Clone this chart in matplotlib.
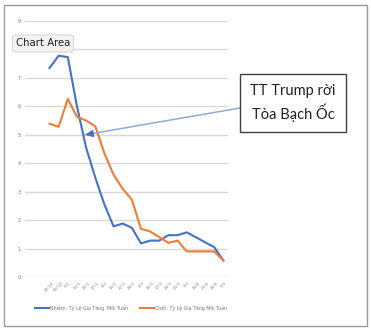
import matplotlib
matplotlib.use("Agg")
from matplotlib import pyplot as plt
from matplotlib.patches import Rectangle
import numpy as np

# tuần (ngày/tháng)
weeks = ["23/12", "30/12", "6/1", "13/1", "20/1", "27/1", "3/2", "10/2", "17/2", "24/2",
         "3/3", "10/3", "17/3", "24/3", "31/3", "7/4", "14/4", "21/4", "28/4", "5/5"]
nhiem = [7.35, 7.78, 7.73, 6.0, 4.55, 3.5, 2.55, 1.78, 1.88, 1.73,
         1.18, 1.28, 1.28, 1.47, 1.47, 1.57, 1.4, 1.22, 1.05, 0.58]
chet = [5.39, 5.28, 6.26, 5.63, 5.5, 5.3, 4.35, 3.6, 3.1, 2.72,
        1.69, 1.6, 1.4, 1.2, 1.28, 0.9, 0.9, 0.9, 0.9, 0.58]
label_nhiem = "Nhiễm: Tỷ Lệ Gia Tăng  Mỗi Tuần"
label_chet = "Chết: Tỷ Lệ Gia Tăng Mỗi Tuần"
note = "TT Trump rời\nTòa Bạch Ốc"

W, H = 371, 332
fig = plt.figure(figsize=(W / 100, H / 100), dpi=100)
fig.patch.set_facecolor("white")

def px(x, y):
    return x / W, 1 - y / H

# khung ngoài
fig.add_artist(Rectangle(px(4, 326), 363 / W, 321 / H, transform=fig.transFigure,
                         fill=False, edgecolor="#9a9a9a", lw=1.0))

l, b = px(25, 277)
r, t = px(228, 21)
ax = fig.add_axes([l, b, r - l, t - b])
x = np.arange(len(weeks))
ax.plot(x, nhiem, color="#4472C4", lw=1.5, label=label_nhiem, solid_joinstyle="round")
ax.plot(x, chet, color="#ED7D31", lw=1.5, label=label_chet, solid_joinstyle="round")

ax.set_ylim(0, 9)
ax.set_xlim((25 - 49.5) / 9.15, (228 - 49.5) / 9.15)
ax.set_yticks(range(10))
ax.yaxis.grid(True, color="#d9d9d9", lw=1.0)
ax.set_axisbelow(True)
for s in ax.spines.values():
    s.set_visible(False)
ax.tick_params(length=0, labelsize=3.5, labelcolor="#777777", pad=3)
ax.set_xticks(x)
ax.set_xticklabels(weeks, rotation=45, ha="center", fontsize=3.2, color="#888888")

leg = fig.legend(loc="center left", bbox_to_anchor=px(31, 308), ncol=2, frameon=False,
                 fontsize=3.4, handlelength=3.0, handletextpad=0.2, columnspacing=2.4,
                 labelcolor="#777777")

# mũi tên chú thích
ax.annotate("", xy=(3.88, 5.0), xycoords="data",
            xytext=px(240, 108), textcoords="figure fraction",
            arrowprops=dict(arrowstyle="-", color="#8fa9da", lw=1.1,
                            shrinkA=0, shrinkB=0))
ax.annotate("", xy=(3.88, 5.0), xycoords="data",
            xytext=(4.7, 5.04), textcoords="data",
            arrowprops=dict(arrowstyle="-|>,head_length=0.45,head_width=0.2",
                            color="#4472C4", lw=1.1, shrinkA=0, shrinkB=0))

fig.add_artist(Rectangle(px(240, 131.5), 106.5 / W, 57.5 / H, transform=fig.transFigure,
                         facecolor="white", edgecolor="#404040", lw=1.0))
fig.text(*px(293, 103), note, ha="center", va="center", fontsize=10.5,
         family="Lato", color="#222222", linespacing=1.4)

# nhãn "Chart Area"
fig.text(*px(43, 43.5), "Chart Area", ha="center", va="center", fontsize=7.3,
         family="DejaVu Sans", color="#222222",
         bbox=dict(boxstyle="round,pad=0.35,rounding_size=0.3", facecolor="#f2f2f2",
                   edgecolor="#d0d0d0", lw=0.6))

plt.savefig("out.png", dpi=100)
